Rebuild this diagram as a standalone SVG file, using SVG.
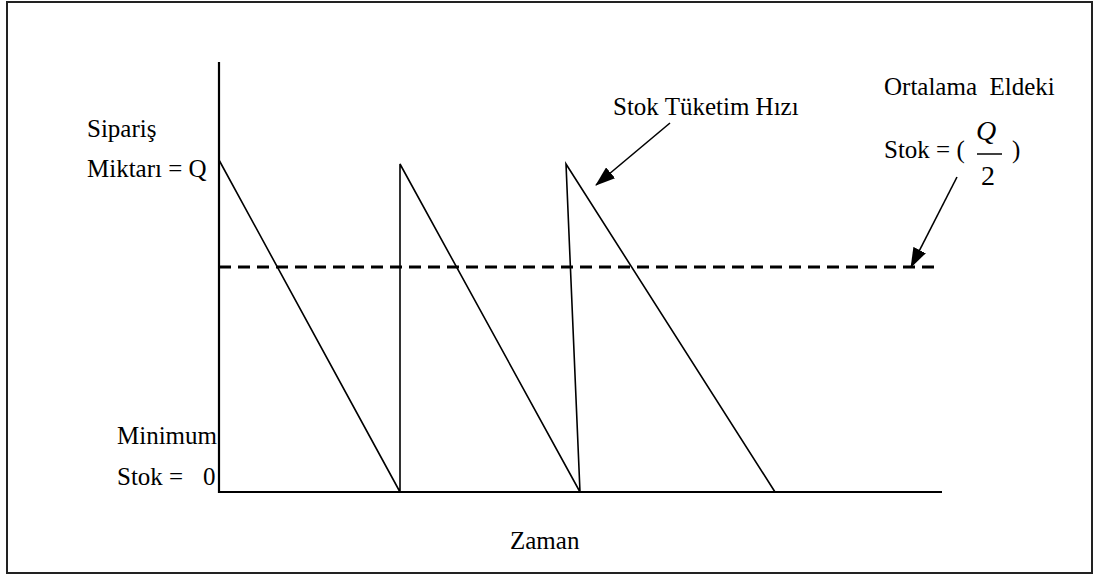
<svg xmlns="http://www.w3.org/2000/svg" width="1095" height="577" viewBox="0 0 1095 577">
<style>
text{font-family:'Liberation Serif','Times New Roman',serif;font-size:25px;fill:#000}
.ln{stroke:#000;stroke-width:1.6;fill:none}
.ax{stroke:#000;stroke-width:2.2;fill:none}
</style>
<defs>
<marker id="ah" viewBox="0 0 20 14" refX="19" refY="7" markerWidth="20" markerHeight="14" markerUnits="userSpaceOnUse" orient="auto">
<path d="M0,0 L20,7 L0,14 Z" fill="#000"/>
</marker>
</defs>
<rect x="7" y="2" width="1085" height="571" fill="#fff" stroke="#222" stroke-width="2"/>
<g id="axes">
<line class="ax" x1="219" y1="62" x2="219" y2="493"/>
<line class="ax" x1="218" y1="492" x2="942" y2="492"/>
</g>
<g id="sawtooth">
<polyline class="ln" points="219,160 400,492 400,164 580,492 566,164 775,492"/>
</g>
<g id="average">
<line x1="219" y1="267" x2="936" y2="267" stroke="#000" stroke-width="3" stroke-dasharray="12,7"/>
</g>
<g id="connectors">
<line class="ln" x1="670" y1="123" x2="596" y2="185" marker-end="url(#ah)"/>
<line class="ln" x1="957" y1="177" x2="911" y2="267" marker-end="url(#ah)"/>
</g>
<g id="labels">
<text x="87" y="137">Sipariş</text>
<text x="87" y="177">Miktarı = Q</text>
<text x="117" y="444">Minimum</text>
<text x="117" y="485">Stok =</text>
<text x="203" y="485">0</text>
<text x="510" y="549">Zaman</text>
<text x="613" y="115">Stok Tüketim Hızı</text>
<text x="884" y="95" xml:space="preserve">Ortalama  Eldeki</text>
<text x="884" y="158">Stok = (</text>
<text x="1012" y="158">)</text>
<text x="976" y="140" style="font-style:italic;font-size:28px">Q</text>
<line x1="977" y1="154" x2="1002" y2="154" stroke="#000" stroke-width="1.5"/>
<text x="981" y="185" style="font-size:28px">2</text>
</g>
</svg>
